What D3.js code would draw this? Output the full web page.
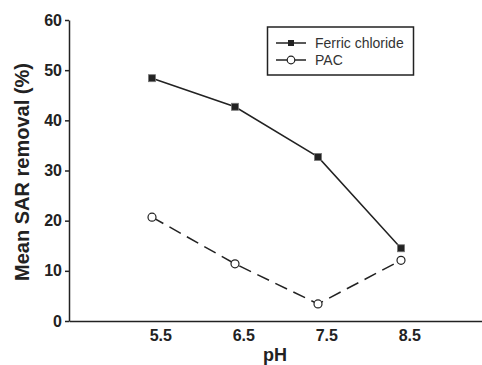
<!DOCTYPE html>
<html><head><meta charset="utf-8">
<script src="https://cdn.jsdelivr.net/npm/d3@7"></script>
<style>body{margin:0;background:#fff}svg{display:block;font-family:"Liberation Sans",Arial,sans-serif}</style>
</head><body>
<svg id="c" width="482" height="365"></svg>
<script>
const phPositions = [5.4, 6.4, 7.4, 8.4];
const ferric = [48.4, 42.7, 32.7, 14.5];
const pac = [20.7, 11.4, 3.4, 12.1];
const xTickValues = [5.5, 6.5, 7.5, 8.5];
const xTickLabels = ["5.5", "6.5", "7.5", "8.5"];
const yTicks = [0, 10, 20, 30, 40, 50, 60];
const seriesNames = ["Ferric chloride", "PAC"];

const svg = d3.select("#c");
const x = d3.scaleLinear().domain([4.4, 9.4]).range([69, 484]);
const y = d3.scaleLinear().domain([0, 60]).range([321, 20]);
const ink = "#222";

// Axes
const yAxis = svg.append("g").attr("transform", "translate(69,0)")
  .call(d3.axisLeft(y).tickValues(yTicks).tickSize(4).tickPadding(3).tickSizeOuter(0));
yAxis.select(".domain").attr("stroke", ink).attr("stroke-width", 1.5);
yAxis.selectAll(".tick line").attr("stroke", ink).attr("stroke-width", 1.5);
yAxis.selectAll("text").attr("font-size", 16).attr("font-weight", "bold").attr("fill", ink)
  .attr("font-family", '"Liberation Sans",Arial,sans-serif');

const xAxis = svg.append("g").attr("transform", "translate(0,321)")
  .call(d3.axisBottom(x).tickValues(xTickValues).tickFormat((d, i) => xTickLabels[i]).tickSize(0).tickPadding(9).tickSizeOuter(0));
xAxis.select(".domain").attr("stroke", ink).attr("stroke-width", 1.5);
xAxis.selectAll("text").attr("font-size", 16).attr("font-weight", "bold").attr("fill", ink)
  .attr("font-family", '"Liberation Sans",Arial,sans-serif');

// Axis titles
svg.append("text").attr("transform", "translate(29,172) rotate(-90)")
  .attr("text-anchor", "middle").attr("font-size", 20).attr("font-weight", "bold").attr("fill", ink)
  .text("Mean SAR removal (%)");
svg.append("text").attr("x", 275).attr("y", 361).attr("text-anchor", "middle")
  .attr("font-size", 18).attr("font-weight", "bold").attr("fill", ink).text("pH");

const line = d3.line().x(d => x(d[0])).y(d => y(d[1]));
const fData = phPositions.map((p, i) => [p, ferric[i]]);
const pData = phPositions.map((p, i) => [p, pac[i]]);

svg.append("path").datum(fData).attr("d", line).attr("fill", "none").attr("stroke", ink).attr("stroke-width", 1.5);
svg.append("path").datum(pData).attr("d", line).attr("fill", "none").attr("stroke", ink).attr("stroke-width", 1.5)
  .attr("stroke-dasharray", "13,7");

svg.selectAll(".sq").data(fData).enter().append("rect")
  .attr("x", d => x(d[0]) - 3.5).attr("y", d => y(d[1]) - 3.5).attr("width", 7).attr("height", 7)
  .attr("fill", ink).attr("stroke", "#777").attr("stroke-width", 0.8);
svg.selectAll(".ci").data(pData).enter().append("circle")
  .attr("cx", d => x(d[0])).attr("cy", d => y(d[1])).attr("r", 4)
  .attr("fill", "#fff").attr("stroke", ink).attr("stroke-width", 1.2);

// Legend
const lg = svg.append("g");
lg.append("rect").attr("x", 267.5).attr("y", 27).attr("width", 146).attr("height", 48)
  .attr("fill", "#fff").attr("stroke", ink).attr("stroke-width", 1.5);
[0, 1].forEach(i => {
  const yy = 43 + i * 17;
  lg.append("line").attr("x1", 276).attr("x2", 306).attr("y1", yy).attr("y2", yy)
    .attr("stroke", ink).attr("stroke-width", 1.5);
  if (i === 0) lg.append("rect").attr("x", 288).attr("y", yy - 3).attr("width", 6).attr("height", 6).attr("fill", ink);
  else lg.append("circle").attr("cx", 291).attr("cy", yy).attr("r", 3.8).attr("fill", "#fff").attr("stroke", ink).attr("stroke-width", 1.2);
  lg.append("text").attr("x", 315).attr("y", yy + 5).attr("font-size", 14).attr("fill", "#333").text(seriesNames[i]);
});
</script>
</body></html>
